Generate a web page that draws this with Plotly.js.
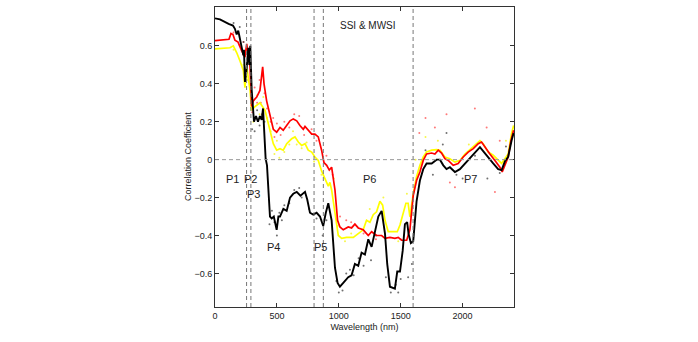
<!DOCTYPE html>
<html>
<head>
<meta charset="utf-8">
<script src="https://cdn.plot.ly/plotly-3.0.1.min.js"></script>
<style>
  html, body { margin: 0; padding: 0; background: #fff; }
  #chart { width: 698px; height: 342px; }
</style>
</head>
<body>
<div id="chart"></div>
<script>
// wavelength (nm) and correlation values
var blackX = [0, 40, 110, 145, 161, 175, 188, 202, 215, 229, 234, 242, 253, 261, 269, 277, 285, 296, 304, 315, 331, 347, 363, 377, 388, 398, 409, 420, 432, 444, 458, 475, 498, 512, 525, 552, 579, 606, 632, 660, 690, 713, 727, 745, 767, 794, 821, 848, 874, 895, 915, 942, 969, 990, 1009, 1036, 1076, 1103, 1130, 1157, 1184, 1211, 1238, 1265, 1292, 1319, 1346, 1373, 1391, 1413, 1453, 1472, 1494, 1516, 1534, 1552, 1563, 1582, 1601, 1628, 1655, 1682, 1709, 1750, 1790, 1817, 1844, 1870, 1897, 1938, 1978, 2019, 2059, 2099, 2140, 2166, 2207, 2247, 2287, 2315, 2341, 2368, 2395, 2412];
var blackY = [0.745, 0.74, 0.716, 0.707, 0.69, 0.66, 0.68, 0.64, 0.60, 0.55, 0.58, 0.41, 0.46, 0.55, 0.59, 0.50, 0.60, 0.37, 0.29, 0.20, 0.23, 0.20, 0.23, 0.21, 0.27, 0.11, 0.005, -0.03, -0.2, -0.30, -0.31, -0.30, -0.37, -0.30, -0.30, -0.26, -0.27, -0.2, -0.18, -0.17, -0.19, -0.18, -0.17, -0.21, -0.28, -0.29, -0.28, -0.30, -0.35, -0.28, -0.23, -0.32, -0.57, -0.65, -0.67, -0.65, -0.62, -0.61, -0.55, -0.56, -0.49, -0.50, -0.42, -0.46, -0.37, -0.30, -0.27, -0.39, -0.55, -0.67, -0.68, -0.59, -0.59, -0.48, -0.34, -0.33, -0.39, -0.44, -0.43, -0.22, -0.11, -0.05, -0.02, -0.02, 0.0, 0.0, -0.03, -0.05, -0.04, -0.065, -0.05, -0.02, 0.005, 0.04, 0.066, 0.045, 0.015, -0.02, -0.05, -0.055, -0.01, 0.015, 0.10, 0.14];

var redX = [0, 113, 129, 145, 161, 186, 215, 242, 256, 269, 283, 296, 309, 337, 363, 385, 396, 417, 444, 471, 498, 525, 551, 579, 606, 632, 660, 686, 713, 727, 753, 781, 807, 834, 861, 880, 902, 923, 942, 969, 990, 1009, 1036, 1076, 1103, 1130, 1157, 1197, 1238, 1265, 1305, 1346, 1373, 1413, 1453, 1480, 1507, 1548, 1574, 1588, 1601, 1628, 1655, 1682, 1709, 1750, 1776, 1803, 1830, 1857, 1884, 1924, 1964, 2005, 2045, 2086, 2126, 2153, 2180, 2220, 2261, 2301, 2320, 2341, 2368, 2390, 2412];
var redY = [0.628, 0.635, 0.665, 0.66, 0.63, 0.62, 0.575, 0.54, 0.61, 0.56, 0.49, 0.28, 0.31, 0.33, 0.365, 0.49, 0.40, 0.31, 0.24, 0.16, 0.145, 0.17, 0.155, 0.18, 0.205, 0.215, 0.205, 0.18, 0.16, 0.175, 0.155, 0.135, 0.135, 0.12, 0.05, -0.015, -0.03, -0.055, -0.04, -0.16, -0.32, -0.355, -0.37, -0.355, -0.36, -0.34, -0.36, -0.37, -0.40, -0.38, -0.40, -0.40, -0.415, -0.41, -0.415, -0.41, -0.425, -0.425, -0.37, -0.25, -0.19, -0.11, -0.065, -0.004, 0.03, 0.035, 0.03, 0.05, 0.035, 0.005, -0.004, -0.03, -0.02, 0.014, 0.04, 0.058, 0.084, 0.093, 0.066, 0.03, -0.004, -0.04, -0.065, -0.03, 0.014, 0.10, 0.155];

var yellowX = [0, 121, 148, 175, 202, 229, 242, 256, 283, 296, 323, 363, 404, 430, 471, 498, 525, 551, 579, 619, 646, 673, 700, 727, 753, 781, 807, 834, 861, 888, 915, 928, 942, 969, 996, 1023, 1063, 1117, 1157, 1197, 1224, 1251, 1278, 1305, 1332, 1354, 1373, 1399, 1440, 1472, 1494, 1521, 1542, 1560, 1574, 1601, 1628, 1655, 1682, 1709, 1750, 1790, 1817, 1857, 1897, 1938, 1978, 2019, 2059, 2099, 2140, 2166, 2207, 2247, 2287, 2315, 2341, 2368, 2395, 2412];
var yellowY = [0.584, 0.59, 0.60, 0.565, 0.52, 0.47, 0.38, 0.49, 0.365, 0.26, 0.28, 0.30, 0.26, 0.19, 0.084, 0.05, 0.058, 0.05, 0.084, 0.11, 0.12, 0.093, 0.075, 0.084, 0.05, 0.04, 0.014, -0.004, -0.06, -0.10, -0.14, -0.12, -0.16, -0.28, -0.40, -0.415, -0.41, -0.41, -0.39, -0.37, -0.32, -0.33, -0.29, -0.275, -0.22, -0.24, -0.32, -0.38, -0.38, -0.38, -0.345, -0.275, -0.23, -0.23, -0.30, -0.18, -0.09, -0.03, 0.014, 0.04, 0.05, 0.053, 0.05, 0.014, 0.005, -0.013, -0.004, 0.03, 0.053, 0.075, 0.10, 0.084, 0.04, 0.023, -0.004, -0.02, 0.005, 0.03, 0.137, 0.18];

// scattered single-band values (the small dots)
var blackDotX = [150, 200, 230, 300, 320, 340, 360, 380, 400, 440, 460, 480, 500, 520, 540, 560, 600, 640, 680, 700, 760, 820, 870, 900, 980, 1000, 1030, 1060, 1090, 1120, 1160, 1200, 1260, 1300, 1380, 1420, 1460, 1480, 1500, 1560, 1590, 1600, 1700, 1760, 1840, 1870, 1950, 2000, 2100, 2200, 2300, 2350];
var blackDotY = [0.72, 0.70, 0.62, 0.16, 0.15, 0.26, 0.18, 0.24, 0.2, -0.34, -0.27, -0.33, -0.40, -0.28, -0.32, -0.24, -0.23, -0.16, -0.15, -0.2, -0.26, -0.31, -0.4, -0.32, -0.64, -0.70, -0.69, -0.60, -0.58, -0.61, -0.52, -0.56, -0.53, -0.4, -0.62, -0.70, -0.66, -0.7, -0.63, -0.62, -0.55, -0.47, 0.05, -0.08, 0.08, 0.14, -0.08, -0.1, 0.02, -0.1, -0.07, 0.07];
var redDotX = [150, 200, 230, 260, 300, 320, 340, 360, 370, 380, 400, 420, 450, 470, 480, 500, 530, 560, 600, 640, 680, 720, 780, 820, 900, 950, 1010, 1060, 1100, 1200, 1300, 1500, 1580, 1650, 1700, 1776, 1870, 1897, 1938, 2099, 2194, 2261, 2300];
var redDotY = [0.67, 0.6, 0.62, 0.52, 0.25, 0.38, 0.3, 0.42, 0.3, 0.44, 0.35, 0.27, 0.2, 0.22, 0.12, 0.19, 0.13, 0.2, 0.17, 0.24, 0.23, 0.13, 0.16, 0.10, 0.02, -0.08, -0.30, -0.32, -0.33, -0.39, -0.42, -0.42, -0.30, 0.14, 0.22, 0.17, 0.24, -0.12, -0.145, 0.27, 0.17, -0.17, 0.1];
var yellowDotX = [150, 230, 260, 300, 310, 340, 360, 390, 420, 450, 480, 500, 520, 560, 600, 630, 660, 700, 740, 800, 860, 960, 990, 1050, 1100, 1250, 1360, 1480, 1550, 1620, 1700, 1800, 2050, 2350];
var yellowDotY = [0.58, 0.50, 0.42, 0.32, 0.20, 0.34, 0.24, 0.33, 0.22, 0.15, 0.03, 0.10, 0.01, 0.04, 0.08, 0.15, 0.08, 0.06, 0.09, -0.01, -0.08, -0.1, -0.35, -0.43, -0.39, -0.26, -0.2, -0.43, -0.18, 0.0, 0.12, 0.1, 0.08, 0.1];

// boundaries of the P1..P7 regions
var regionLines = [255, 290, 800, 875, 1600];
var regionNames = ['P1', 'P2', 'P3', 'P4', 'P5', 'P6', 'P7'];
var regionNameX = [145, 290, 310, 475, 855, 1245, 2065];
var regionNameY = [-0.1, -0.1, -0.18, -0.46, -0.46, -0.1, -0.1];

var font = 'Liberation Sans, Arial, sans-serif';

function dots(x, y, color) {
    return { x: x, y: y, mode: 'markers', type: 'scatter', marker: { color: color, size: 2, opacity: 0.7 } };
}

var traces = [
    dots(yellowDotX, yellowDotY, '#f2f200'),
    dots(redDotX, redDotY, '#ff4040'),
    dots(blackDotX, blackDotY, '#333333'),
    { x: yellowX, y: yellowY, mode: 'lines', line: { color: '#ffff00', width: 1.7 }, type: 'scatter' },
    { x: redX, y: redY, mode: 'lines', line: { color: '#ff0000', width: 1.7 }, type: 'scatter' },
    { x: blackX, y: blackY, mode: 'lines', line: { color: '#000000', width: 1.9 }, type: 'scatter' }
];

var shapes = regionLines.map(function (v) {
    return { type: 'line', xref: 'x', yref: 'paper', x0: v, x1: v, y0: 0, y1: 1,
        line: { color: '#777', width: 1, dash: '4px,3px' } };
});
shapes.push({ type: 'line', xref: 'paper', yref: 'y', x0: 0, x1: 1, y0: 0, y1: 0,
    line: { color: '#999', width: 1, dash: '4px,3px' } });

var annotations = regionNames.map(function (t, i) {
    return { x: regionNameX[i], y: regionNameY[i], text: t, showarrow: false,
        font: { family: font, size: 11, color: '#222' } };
});
annotations.push({ x: 1235, y: 0.707, text: 'SSI & MWSI', showarrow: false,
    font: { family: font, size: 10, color: '#222' } });
// y axis title placed by hand, close to the tick labels
annotations.push({ xref: 'paper', yref: 'paper', x: -0.09, y: 0.5, xanchor: 'center', yanchor: 'middle',
    textangle: -90, text: 'Correlation Coefficient', showarrow: false,
    font: { family: font, size: 9, color: '#222' } });

var layout = {
    width: 698,
    height: 342,
    margin: { l: 215, r: 184, t: 7, b: 35 },
    paper_bgcolor: '#fff',
    plot_bgcolor: '#fff',
    showlegend: false,
    font: { family: font, size: 9, color: '#222' },
    xaxis: {
        range: [0, 2415],
        tickvals: [0, 500, 1000, 1500, 2000],
        ticks: 'inside', ticklen: 4, tickcolor: '#333',
        showline: true, linecolor: '#333', linewidth: 1, mirror: 'ticks',
        showgrid: false, zeroline: false,
        title: { text: 'Wavelength (nm)', standoff: 3, font: { family: font, size: 9 } }
    },
    yaxis: {
        range: [-0.777, 0.805],
        tickvals: [-0.6, -0.4, -0.2, 0, 0.2, 0.4, 0.6],
        ticktext: ['\u22120.6', '\u22120.4', '\u22120.2', '0', '0.2', '0.4', '0.6'],
        ticks: 'inside', ticklen: 4, tickcolor: '#333',
        showline: true, linecolor: '#333', linewidth: 1, mirror: 'ticks',
        showgrid: false, zeroline: false
    },
    shapes: shapes,
    annotations: annotations
};

Plotly.newPlot('chart', traces, layout, { staticPlot: true });
</script>
</body>
</html>
